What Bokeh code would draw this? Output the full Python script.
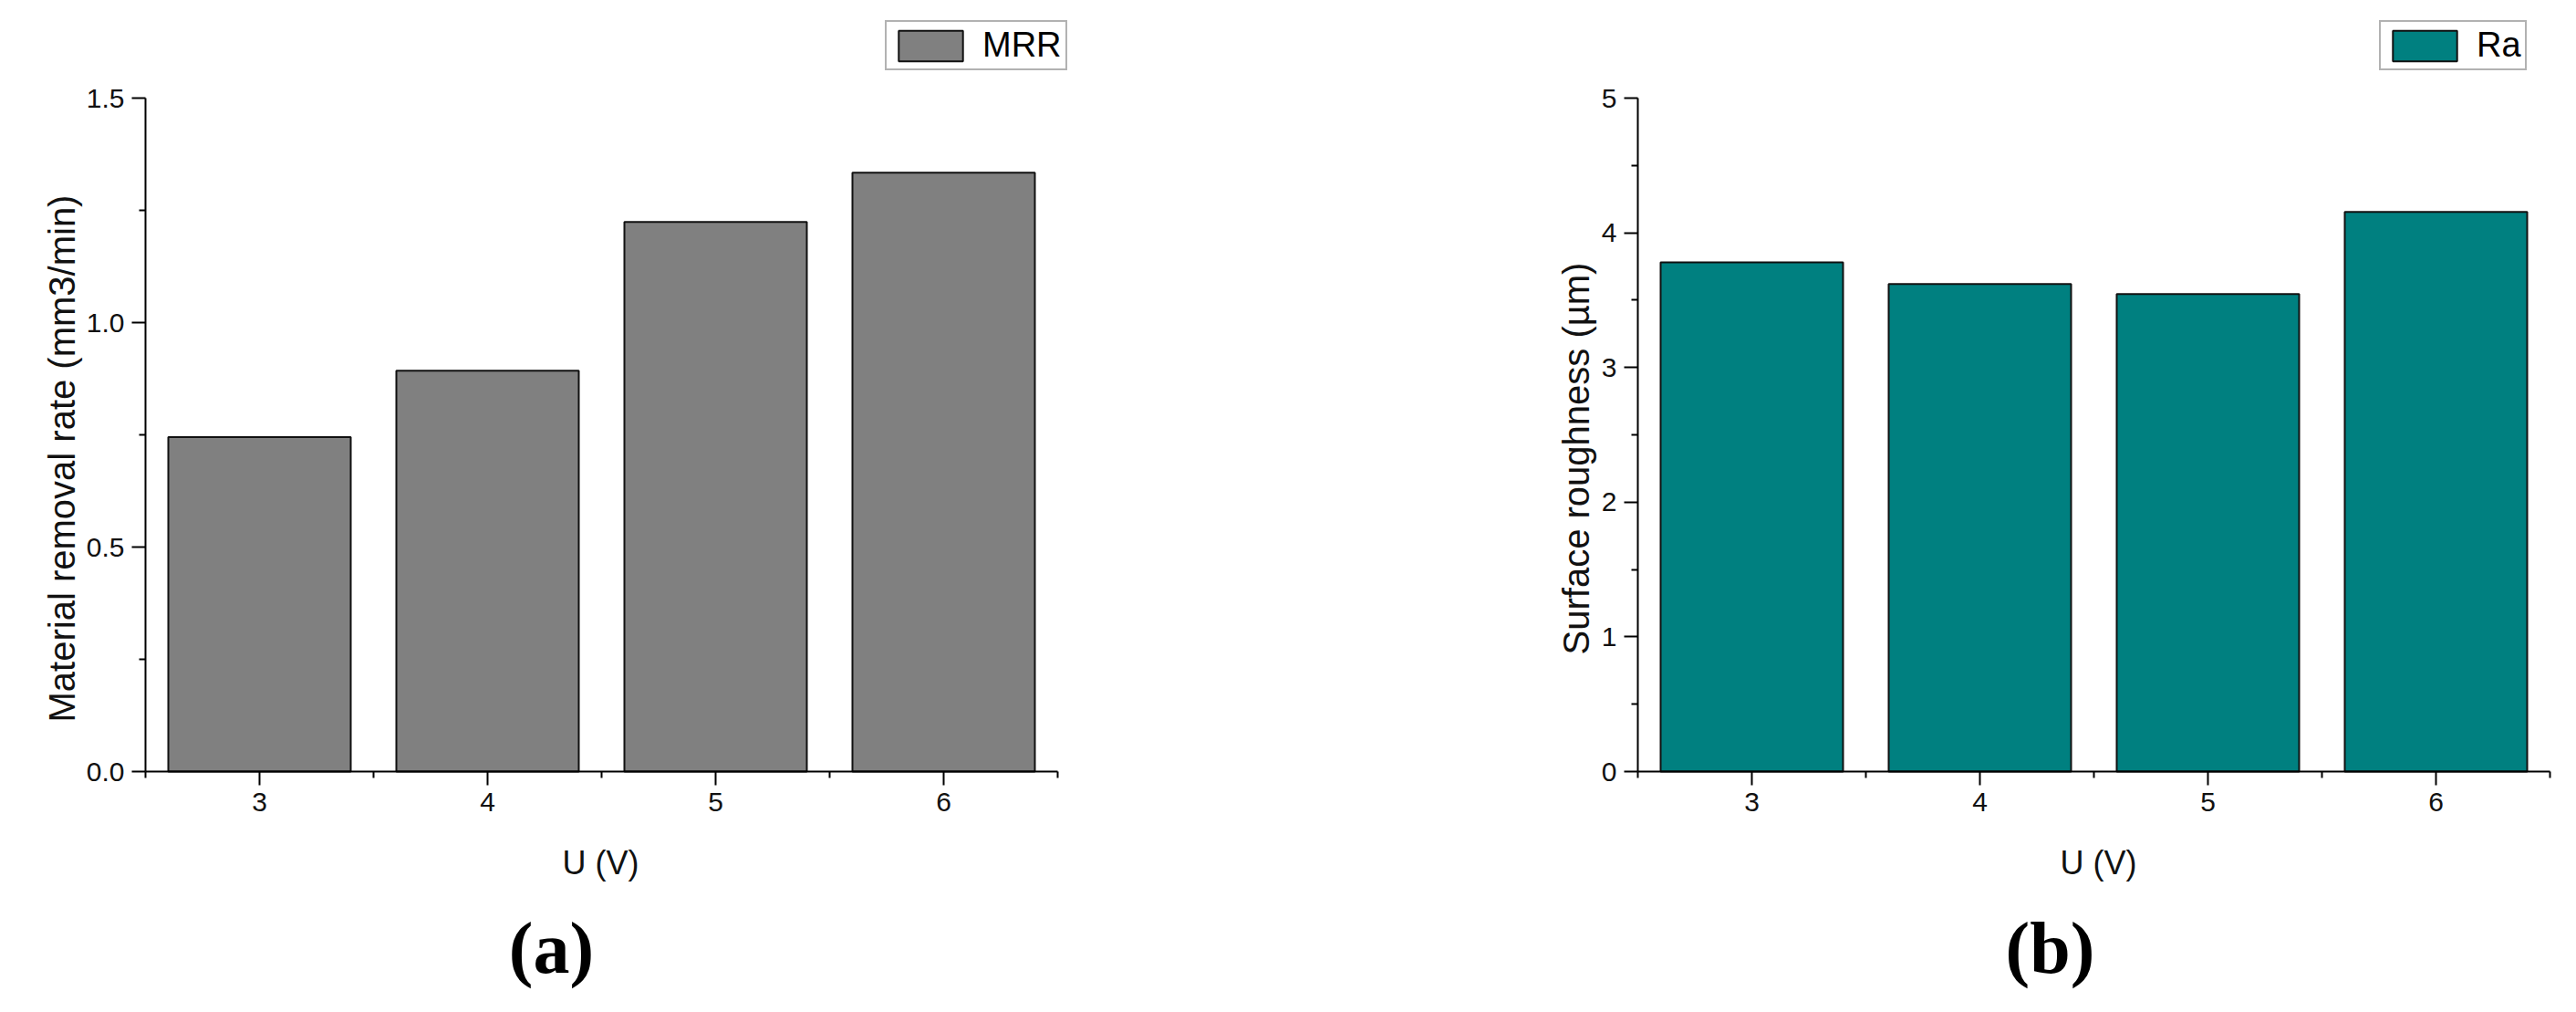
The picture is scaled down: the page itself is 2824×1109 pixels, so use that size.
from math import pi
from bokeh.plotting import figure
from bokeh.layouts import row
from bokeh.models import Range1d, FixedTicker, Label, Legend, LegendItem
from bokeh.embed import file_html
from bokeh.resources import INLINE

# ---------------- data ----------------
voltage = [3, 4, 5, 6]
mrr = [0.745, 0.893, 1.224, 1.334]
ra = [3.78, 3.62, 3.545, 4.155]

x_ticks = [3, 4, 5, 6]
x_minor = [2.5, 3.5, 4.5, 5.5, 6.5]
mrr_ticks = [0.0, 0.5, 1.0, 1.5]
mrr_minor = [0.25, 0.75, 1.25]
mrr_tick_labels = ["0.0", "0.5", "1.0", "1.5"]
ra_ticks = [0, 1, 2, 3, 4, 5]
ra_minor = [0.5, 1.5, 2.5, 3.5, 4.5]
ra_tick_labels = ["0", "1", "2", "3", "4", "5"]

x_title = "U (V)"
mrr_title = "Material removal rate (mm3/min)"
ra_title = "Surface roughness (µm)"
mrr_name = "MRR"
ra_name = "Ra"
panel_a = "(a)"
panel_b = "(b)"

SANS = "Liberation Sans"
SERIF = "Liberation Serif"

H = 1093           # figure height (page y 8 .. 1101)
PX = 250.0         # pixels per x unit
X0, X1 = 2.5, 6.5  # axis extent in x
FRAME_TOP = 107    # canvas y of y_max
FRAME_BOT = 845    # canvas y of 0


def make_panel(width, offset_x, axis_canvas_x, y_max, yticks, yminor, ylabels,
               values, fill, series, ytitle, panel,
               legend_full_x, ytitle_full_x, xtitle_full_x, panel_full_x):
    ppy = (FRAME_BOT - FRAME_TOP) / y_max
    xs = X0 - axis_canvas_x / PX
    xe = X0 + (width - axis_canvas_x) / PX
    ys = -(H - FRAME_BOT) / ppy
    ye = y_max + FRAME_TOP / ppy

    def dx(full_x):
        return X0 + (full_x - offset_x - axis_canvas_x) / PX

    def dy(full_y):
        return (FRAME_BOT + 8 - full_y) / ppy

    p = figure(width=width, height=H, output_backend="svg", toolbar_location=None,
               x_range=Range1d(xs, xe), y_range=Range1d(ys, ye),
               min_border_left=0, min_border_right=0,
               min_border_top=0, min_border_bottom=0)
    p.outline_line_color = None
    p.xgrid.visible = False
    p.ygrid.visible = False
    p.background_fill_color = "white"
    p.border_fill_color = "white"

    r = p.vbar(x=voltage, top=values, width=0.8, bottom=0,
               fill_color=fill, line_color="#111111", line_width=2)

    for ax in (p.xaxis[0], p.yaxis[0]):
        ax.axis_line_width = 2
        ax.axis_line_color = "black"
        ax.major_tick_line_width = 2
        ax.minor_tick_line_width = 2
        ax.major_tick_line_color = "black"
        ax.minor_tick_line_color = "black"
        ax.major_tick_out = 15
        ax.major_tick_in = 0
        ax.minor_tick_out = 7
        ax.minor_tick_in = 0
        ax.major_label_text_font = SANS
        ax.major_label_text_font_size = "30px"
        ax.major_label_text_color = "#111111"

    p.xaxis.fixed_location = 0
    p.xaxis.bounds = (X0, X1)
    p.xaxis.ticker = FixedTicker(ticks=x_ticks, minor_ticks=x_minor)
    p.xaxis.major_label_standoff = 8

    p.yaxis.fixed_location = X0
    p.yaxis.bounds = (0, y_max)
    p.yaxis.ticker = FixedTicker(ticks=yticks, minor_ticks=yminor)
    p.yaxis.major_label_overrides = {t: l for t, l in zip(yticks, ylabels)}
    p.yaxis.major_label_standoff = 8

    p.add_layout(Label(x=dx(ytitle_full_x), y=dy(510), x_units="data", y_units="data",
                       text=ytitle, angle=pi / 2, text_align="center",
                       text_baseline="alphabetic", text_font=SANS,
                       text_font_size="40px", text_color="#111111"))
    p.add_layout(Label(x=dx(xtitle_full_x), y=dy(953), x_units="data", y_units="data",
                       text=x_title, text_align="center", text_baseline="middle",
                       text_font=SANS, text_font_size="36px", text_color="#111111"))
    p.add_layout(Label(x=dx(panel_full_x), y=dy(1046), x_units="data", y_units="data",
                       text=panel, text_align="center", text_baseline="middle",
                       text_font=SERIF, text_font_style="bold",
                       text_font_size="80px", text_color="black"))

    legend = Legend(items=[LegendItem(label=series, renderers=[r])],
                    location=(legend_full_x - offset_x, H - (85 - 8)),
                    orientation="vertical",
                    label_text_font=SANS, label_text_font_size="38px",
                    label_text_color="black", glyph_width=88, glyph_height=42,
                    label_height=42, label_standoff=13, padding=4, margin=0,
                    spacing=0, border_line_color="#666666", border_line_width=2,
                    background_fill_color="white", background_fill_alpha=1.0)
    p.add_layout(legend)
    return p


pa = make_panel(1500, 8, 159, 1.5, mrr_ticks, mrr_minor, mrr_tick_labels,
                mrr, "#808080", mrr_name, mrr_title, panel_a,
                978, 75, 666, 612)
pb = make_panel(1308, 1508, 295, 5, ra_ticks, ra_minor, ra_tick_labels,
                ra, "#008080", ra_name, ra_title, panel_b,
                2616, 1735, 2308, 2255)

layout = row(pa, pb)
open("out.html", "w").write(file_html(layout, INLINE))
